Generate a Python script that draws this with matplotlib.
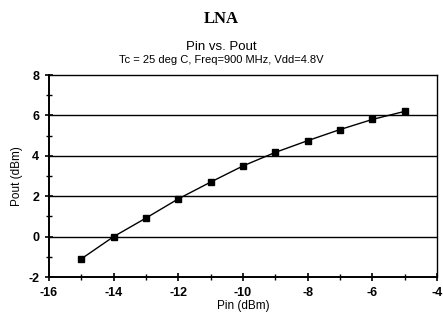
import numpy as np
import matplotlib.pyplot as plt
from matplotlib.ticker import MultipleLocator

# Pin vs Pout data
pin = [-15, -14, -13, -12, -11, -10, -9, -8, -7, -6, -5]
pout = [-1.1, 0.0, 0.92, 1.87, 2.7, 3.5, 4.17, 4.75, 5.3, 5.8, 6.2]
grid_levels = [0, 2, 4, 6]

plt.rcParams['font.family'] = ['Liberation Sans', 'DejaVu Sans']
plt.rcParams['axes.unicode_minus'] = False

fig = plt.figure(figsize=(4.43, 3.24), dpi=100)
ax = fig.add_axes([0.1106, 0.145, 0.8759, 0.6235])

ax.plot(pin, pout, color='black', lw=1.0, marker='s', ms=5, mfc='black', mec='black')
for g in grid_levels:
    ax.axhline(g, color='black', lw=1.0, zorder=0)

ax.set_xlim(-16, -4)
ax.set_ylim(-2, 8)
ax.xaxis.set_major_locator(MultipleLocator(2))
ax.xaxis.set_minor_locator(MultipleLocator(1))
ax.yaxis.set_major_locator(MultipleLocator(2))
ax.yaxis.set_minor_locator(MultipleLocator(1))
ax.tick_params(which='major', direction='inout', length=6, width=1.2, labelsize=9, pad=4)
ax.tick_params(which='minor', direction='inout', length=4, width=1.0)
for lbl in ax.get_xticklabels() + ax.get_yticklabels():
    lbl.set_fontweight('bold')
for s in ['left', 'bottom']:
    ax.spines[s].set_linewidth(1.4)
for s in ['top', 'right']:
    ax.spines[s].set_linewidth(1.0)

ax.set_xlabel('Pin (dBm)', fontsize=8.5, labelpad=1)
ax.set_ylabel('Pout (dBm)', fontsize=8.5, labelpad=4)

fig.text(0.5, 0.94, 'LNA', ha='center', va='center', fontsize=12, fontweight='bold',
         family='Liberation Serif')
fig.text(0.5, 0.855, 'Pin vs. Pout', ha='center', va='center', fontsize=9.5)
fig.text(0.5, 0.815, 'Tc = 25 deg C, Freq=900 MHz, Vdd=4.8V', ha='center', va='center', fontsize=8)

fig.savefig('out.png', dpi=100)
